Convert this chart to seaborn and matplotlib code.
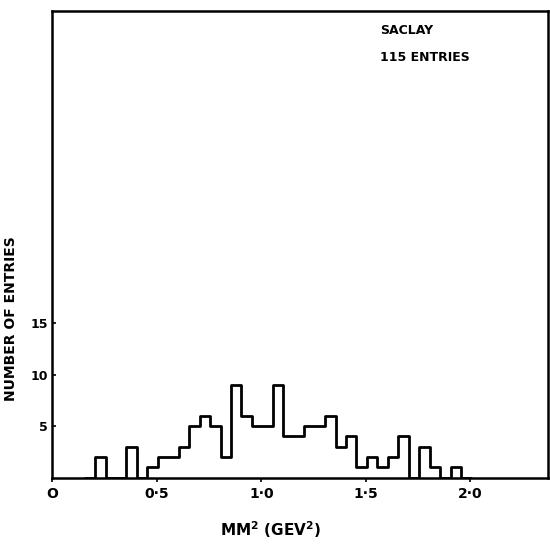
import pandas as pd
import matplotlib
matplotlib.use("Agg")
import matplotlib.pyplot as plt
import seaborn as sns

# Saclay missing-mass-squared histogram, 0.05 GeV^2 bins
# (first and last bins are empty padding so the outline starts/ends on the baseline)
bin_width = 0.05
first_edge = 0.155
counts = [0,
          2, 0, 0, 3, 0, 1, 2, 2, 3, 5,
          6, 5, 2, 9, 6, 5, 5, 9, 4, 4,
          5, 5, 6, 3, 4, 1, 2, 1, 2, 4,
          0, 3, 1, 0, 1,
          0]
x_ticks = [0, 0.5, 1.0, 1.5, 2.0]
x_tick_labels = ["O", "0·5", "1·0", "1·5", "2·0"]
y_ticks = [5, 10, 15]
y_tick_labels = ["5", "10", "15"]
info_lines = ["SACLAY", "115 ENTRIES"]

bin_edges = [round(first_edge + bin_width * i, 4) for i in range(len(counts) + 1)]
df = pd.DataFrame({
    "mm2": [e + bin_width / 2 for e in bin_edges[:-1]],
    "count": counts,
})

sns.set_style("ticks")
plt.rcParams["font.family"] = ["DejaVu Sans"]
plt.rcParams["font.weight"] = "bold"
plt.rcParams["text.color"] = "black"
plt.rcParams["axes.labelcolor"] = "black"
plt.rcParams["xtick.color"] = "black"
plt.rcParams["ytick.color"] = "black"

fig = plt.figure(figsize=(5.5, 5.49), dpi=100)
ax = fig.add_axes([0.095, 0.130, 0.901, 0.850])

sns.histplot(data=df, x="mm2", weights="count", bins=bin_edges,
             element="step", fill=False, color="black", linewidth=2, ax=ax)

ax.set_xlim(0, 2.37)
ax.set_ylim(0, 45.3)
ax.set_xticks(x_ticks)
ax.set_xticklabels(x_tick_labels, fontsize=10, fontweight="bold")
ax.set_yticks(y_ticks)
ax.set_yticklabels(y_tick_labels, fontsize=9, fontweight="bold")
ax.tick_params(axis="x", direction="out", length=3, width=1.2, pad=4)
ax.tick_params(axis="y", direction="in", length=3, width=1.2, pad=3)

for side in ["left", "right", "top", "bottom"]:
    ax.spines[side].set_linewidth(1.8)
    ax.spines[side].set_color("black")

ax.set_xlabel("MM$^{\\mathbf{2}}$ (GEV$^{\\mathbf{2}}$)", fontsize=11, fontweight="bold")
ax.set_ylabel("NUMBER OF ENTRIES", fontsize=10, fontweight="bold")
ax.xaxis.set_label_coords(0.44, -0.09)
ax.yaxis.set_label_coords(-0.069, 0.34)

ax.text(0.661, 0.959, info_lines[0], transform=ax.transAxes,
        fontsize=9, fontweight="bold", va="center", ha="left")
ax.text(0.661, 0.901, info_lines[1], transform=ax.transAxes,
        fontsize=9, fontweight="bold", va="center", ha="left")

fig.savefig("out.png", dpi=100, facecolor="white")
